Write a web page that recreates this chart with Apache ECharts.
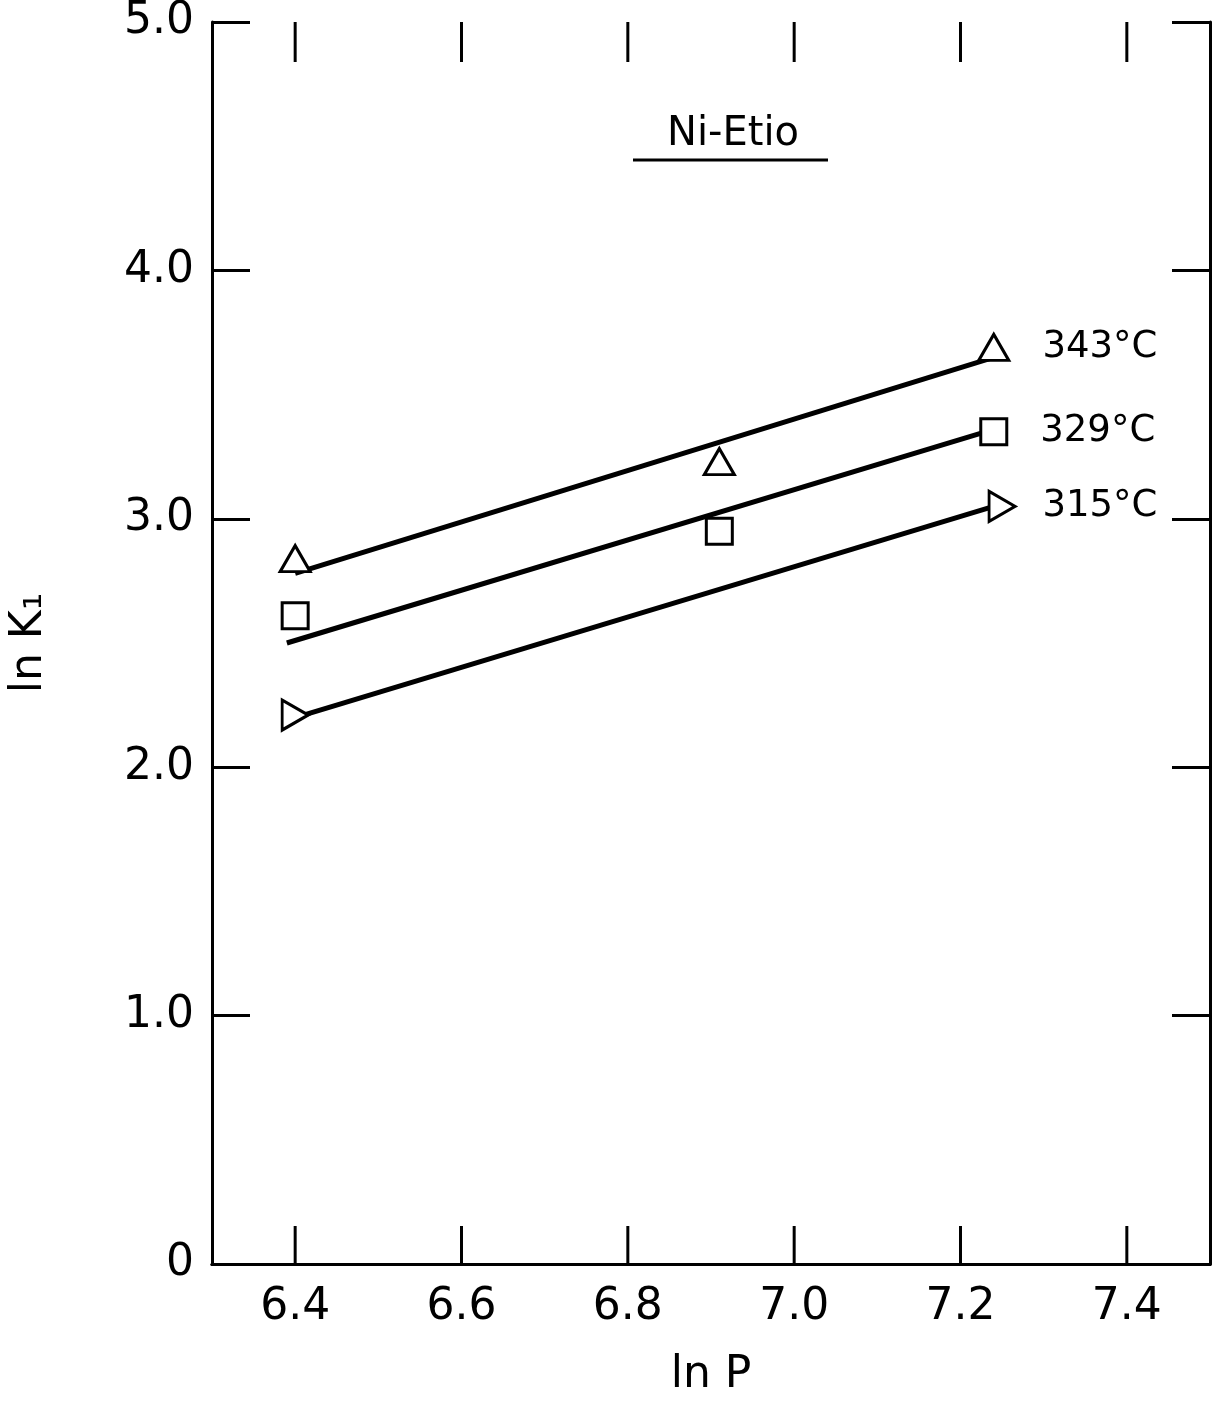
<!DOCTYPE html>
<html>
<head>
<meta charset="utf-8">
<script src="https://cdn.jsdelivr.net/npm/echarts@6/dist/echarts.min.js"></script>
<style>
html,body{margin:0;padding:0;background:#fff;overflow:hidden;}
#chart{position:absolute;left:0;top:0;width:1213px;height:1403px;}
</style>
</head>
<body>
<div id="chart"></div>
<script>
// ---- data ----
const xTicks = [6.4, 6.6, 6.8, 7.0, 7.2, 7.4];
const yTicks = [0, 1, 2, 3, 4, 5];
const pts343 = [[6.40, 2.84], [6.91, 3.23], [7.24, 3.69]];
const pts329 = [[6.40, 2.61], [6.91, 2.95], [7.24, 3.35]];
const pts315 = [[6.40, 2.21], [7.25, 3.05]];
const fit343 = [[6.40, 2.78], [7.24, 3.65]];
const fit329 = [[6.39, 2.50], [7.23, 3.35]];
const fit315 = [[6.41, 2.21], [7.24, 3.05]];
const seriesLabels = ['343°C', '329°C', '315°C'];
const titleText = 'Ni-Etio';
const xName = 'ln P';
const yName = 'ln K₁';

const FONT = 'DejaVu Sans';
const chart = echarts.init(document.getElementById('chart'));
const H = chart.getHeight();

function withLabel(arr, text) {
  return arr.map((p, i) => i === arr.length - 1
    ? { value: p, label: { show: true, formatter: text } }
    : { value: p });
}

const axisLine = { show: true, lineStyle: { color: '#000', width: 3 } };
const tickStyle = { show: true, inside: true, length: 38, lineStyle: { color: '#000', width: 3 } };

const markerStyle = { color: '#fff', borderColor: '#000', borderWidth: 3, opacity: 1 };
const labelStyle = { position: 'right', distance: 32, fontSize: 37, fontFamily: FONT, color: '#000' };

chart.setOption({
  backgroundColor: '#fff',
  animation: false,
  grid: { left: 212, top: 22, right: 3, bottom: H - 1275, containLabel: false },
  xAxis: [
    {
      type: 'value', min: 6.3, max: 7.5, position: 'bottom',
      name: xName, nameLocation: 'middle', nameGap: 90,
      nameTextStyle: { fontSize: 44, fontFamily: FONT, color: '#000' },
      axisLine: axisLine,
      axisTick: { show: false },
      axisLabel: { customValues: xTicks, formatter: v => v.toFixed(1), fontSize: 44, fontFamily: FONT, color: '#000', margin: 22 },
      splitLine: { show: false }
    },
    {
      type: 'value', min: 6.3, max: 7.5, position: 'top',
      axisLine: axisLine,
      axisTick: { show: false },
      axisLabel: { show: false },
      splitLine: { show: false }
    }
  ],
  yAxis: [
    {
      type: 'value', min: 0, max: 5, interval: 1, position: 'left',
      name: yName, nameLocation: 'middle', nameGap: 160, nameRotate: 90,
      nameTextStyle: { fontSize: 44, fontFamily: FONT, color: '#000' },
      axisLine: axisLine,
      axisTick: tickStyle,
      axisLabel: { customValues: yTicks, formatter: v => v === 0 ? '0' : v.toFixed(1), fontSize: 44, fontFamily: FONT, color: '#000', margin: 18 },
      splitLine: { show: false }
    },
    {
      type: 'value', min: 0, max: 5, interval: 1, position: 'right',
      axisLine: axisLine,
      axisTick: tickStyle,
      axisLabel: { show: false },
      splitLine: { show: false }
    }
  ],
  series: [
    {
      // x-axis tick marks (top and bottom, inward), placed via the axis scale
      type: 'custom', data: xTicks.map(v => [v]), silent: true, z: 1,
      renderItem: function (params, api) {
        const bottom = api.coord([api.value(0), 0]);
        const top = api.coord([api.value(0), 5]);
        const st = { stroke: '#000', lineWidth: 3 };
        return {
          type: 'group',
          children: [
            { type: 'line', shape: { x1: bottom[0], y1: bottom[1], x2: bottom[0], y2: bottom[1] - 38 }, style: st },
            { type: 'line', shape: { x1: top[0], y1: top[1], x2: top[0], y2: top[1] + 40 }, style: st }
          ]
        };
      }
    },
    { type: 'line', data: fit343, showSymbol: false, lineStyle: { color: '#000', width: 5 }, z: 2, silent: true },
    { type: 'line', data: fit329, showSymbol: false, lineStyle: { color: '#000', width: 5 }, z: 2, silent: true },
    { type: 'line', data: fit315, showSymbol: false, lineStyle: { color: '#000', width: 5 }, z: 2, silent: true },
    {
      type: 'scatter', data: withLabel(pts343, seriesLabels[0]), symbol: 'triangle', symbolSize: [30, 26],
      itemStyle: markerStyle, label: labelStyle, z: 3
    },
    {
      type: 'scatter', data: withLabel(pts329, seriesLabels[1]), symbol: 'rect', symbolSize: [26, 26],
      itemStyle: markerStyle, label: labelStyle, z: 3
    },
    {
      type: 'scatter', data: withLabel(pts315, seriesLabels[2]), symbol: 'triangle', symbolSize: [30, 26], symbolRotate: -90,
      itemStyle: markerStyle, label: Object.assign({}, labelStyle, { distance: 26 }), z: 3
    }
  ],
  graphic: [
    { type: 'text', x: 733, y: 135, style: { text: titleText, fontSize: 40, fontFamily: FONT, fill: '#000', align: 'center', verticalAlign: 'middle' } },
    { type: 'line', shape: { x1: 633, y1: 160, x2: 828, y2: 160 }, style: { stroke: '#000', lineWidth: 3 } }
  ]
});
</script>
</body>
</html>
